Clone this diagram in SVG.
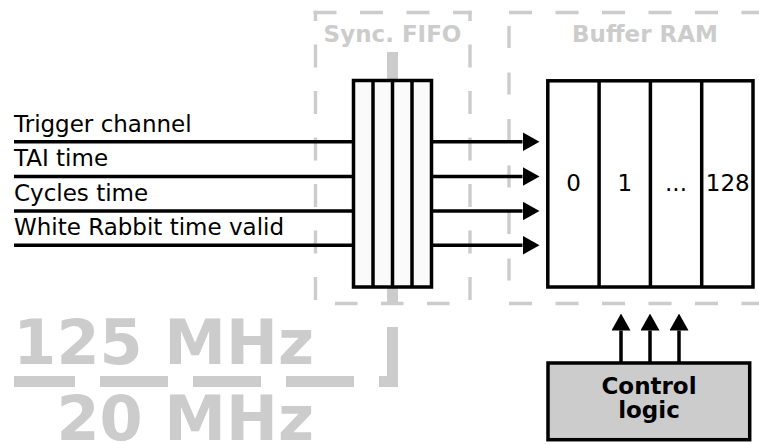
<svg xmlns="http://www.w3.org/2000/svg" width="759" height="444" viewBox="0 0 759 444">
<defs>
<marker id="ah" markerUnits="userSpaceOnUse" viewBox="0 0 17 19" refX="0" refY="9.5" markerWidth="17" markerHeight="19" orient="auto"><path d="M0,0 L17,9.5 L0,19 Z" fill="#000"/></marker>
</defs>
<style>
.rg{stroke:#ccc;stroke-width:3.4;fill:none;stroke-dasharray:23 23.5}
.rt{font-family:"DejaVu Sans",sans-serif;font-weight:bold;font-size:23px;fill:#ccc;text-anchor:middle}
.big{font-family:"DejaVu Sans",sans-serif;font-weight:bold;font-size:62px;fill:#ccc;text-anchor:end}
.lbl{font-family:"DejaVu Sans",sans-serif;font-size:23px;fill:#000}
.w{stroke:#000;stroke-width:3.5;fill:none}
.wa{stroke:#000;stroke-width:3.5;fill:none;marker-end:url(#ah)}
.box{stroke:#000;stroke-width:3.5}
.num{font-family:"DejaVu Sans",sans-serif;font-size:23px;text-anchor:middle;fill:#000}
.ctl{font-family:"DejaVu Sans",sans-serif;font-weight:bold;font-size:23px;text-anchor:middle;fill:#000}
</style>
<rect width="759" height="444" fill="#fff"/>
<g id="sync-fifo-region">
<line class="rg" x1="313.5" y1="12.5" x2="471.7" y2="12.5"/>
<line class="rg" x1="315.5" y1="300" x2="315.5" y2="10.8"/>
<line class="rg" x1="470" y1="300" x2="470" y2="10.8"/>
<line class="rg" x1="335" y1="303.5" x2="451" y2="303.5" style="stroke-dasharray:22.5 23.5"/>
<text class="rt" x="392.5" y="41.5">Sync. FIFO</text>
</g>
<g id="buffer-ram-region">
<line class="rg" x1="509" y1="12.5" x2="759" y2="12.5"/>
<line class="rg" x1="509" y1="26" x2="509" y2="281" style="stroke-dasharray:22 24.5"/>
<line class="rg" x1="509" y1="303.5" x2="759" y2="303.5"/>
<text class="rt" x="645" y="42">Buffer RAM</text>
</g>
<g id="clock-domain-boundary">
<path d="M14,381.5 H392.5 V52" fill="none" stroke="#ccc" stroke-width="11" stroke-dasharray="68 25" stroke-dashoffset="7"/>
<text class="big" x="314" y="363.5">125 MHz</text>
<text class="big" x="314" y="440">20 MHz</text>
</g>
<g id="connectors">
<line class="w" x1="14" y1="141.7" x2="355" y2="141.7"/>
<line class="w" x1="14" y1="176.5" x2="355" y2="176.5"/>
<line class="w" x1="14" y1="211" x2="355" y2="211"/>
<line class="w" x1="14" y1="245.3" x2="355" y2="245.3"/>
<text class="lbl" x="14" y="131.5">Trigger channel</text>
<text class="lbl" x="14" y="166">TAI time</text>
<text class="lbl" x="14" y="200.5">Cycles time</text>
<text class="lbl" x="14" y="235">White Rabbit time valid</text>
<line class="wa" x1="431" y1="141.7" x2="522.5" y2="141.7"/>
<line class="wa" x1="431" y1="176.5" x2="522.5" y2="176.5"/>
<line class="wa" x1="431" y1="211" x2="522.5" y2="211"/>
<line class="wa" x1="431" y1="245.3" x2="522.5" y2="245.3"/>
<line class="wa" x1="621" y1="362" x2="621" y2="330.5"/>
<line class="wa" x1="650" y1="362" x2="650" y2="330.5"/>
<line class="wa" x1="679" y1="362" x2="679" y2="330.5"/>
</g>
<g id="sync-fifo">
<rect class="box" x="353.5" y="80.5" width="78" height="206.5" fill="#fafafa"/>
<line class="w" x1="373" y1="80.5" x2="373" y2="287"/>
<line class="w" x1="392.5" y1="80.5" x2="392.5" y2="287"/>
<line class="w" x1="412" y1="80.5" x2="412" y2="287"/>
</g>
<g id="buffer-ram">
<rect class="box" x="547.8" y="80.8" width="205.2" height="206.2" fill="#fff"/>
<line class="w" x1="599.1" y1="80.8" x2="599.1" y2="287"/>
<line class="w" x1="650.4" y1="80.8" x2="650.4" y2="287"/>
<line class="w" x1="701.7" y1="80.8" x2="701.7" y2="287"/>
<text class="num" x="573.5" y="191">0</text>
<text class="num" x="624.8" y="191">1</text>
<text class="num" x="676" y="191">...</text>
<text class="num" x="727.8" y="191">128</text>
</g>
<g id="control-logic">
<rect class="box" x="548" y="363" width="201.7" height="76.7" fill="#ccc"/>
<text class="ctl" x="649" y="393.5">Control</text>
<text class="ctl" x="649" y="418">logic</text>
</g>
</svg>
